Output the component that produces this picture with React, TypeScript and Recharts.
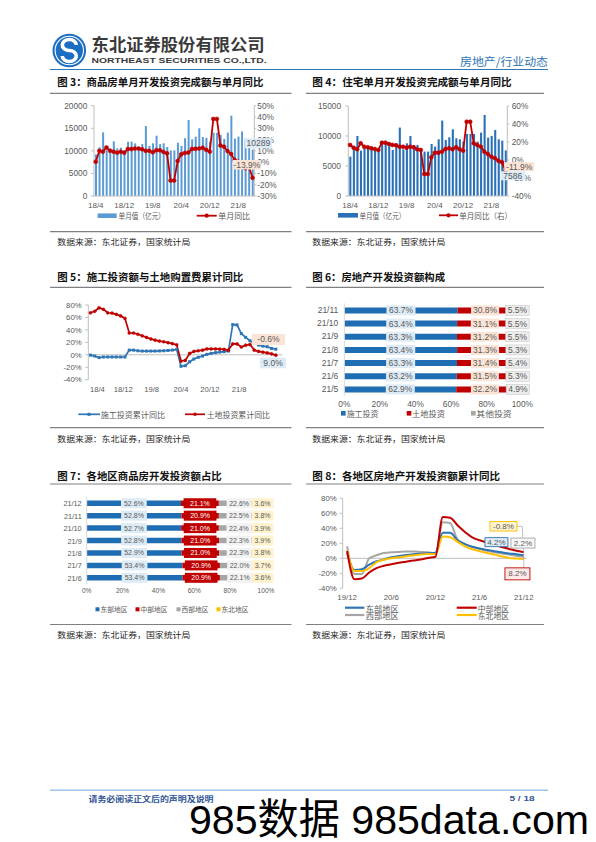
import React from 'react';
import { ComposedChart, LineChart, BarChart, Bar, Line, XAxis, YAxis, LabelList, ReferenceLine } from 'recharts';

const LATIN = "'Liberation Sans', Arial, 'Noto Sans CJK SC', sans-serif";
const CJK = "'Noto Sans CJK SC', 'Liberation Sans', sans-serif";
const AXIS = '#bfbfbf';
const TICK = '#595959';
const RED = '#c00000';

// ---------- Fig 3 / Fig 4 : monthly values ----------
const months = ['18/4','18/5','18/6','18/7','18/8','18/9','18/10','18/11','18/12',
  '19/1','19/2','19/3','19/4','19/5','19/6','19/7','19/8','19/9','19/10','19/11','19/12',
  '20/1','20/2','20/3','20/4','20/5','20/6','20/7','20/8','20/9','20/10','20/11','20/12',
  '21/1','21/2','21/3','21/4','21/5','21/6','21/7','21/8','21/9','21/10','21/11','21/12'];

const fig3Value = [9200, 10780, 14100, 10180, 10550, 12100, 10550, 10700, 10180,
  12030, 12030, 11660, 10900, 11500, 15500, 11070, 11660, 13360, 11510, 11660, 10850,
  10100, 10100, 11800, 11100, 12800, 16850, 12550, 13130, 15000, 13050, 12900, 12000,
  14000, 14000, 13550, 12650, 14050, 17800, 12700, 13150, 14300, 12700, 12150, 10289];
const fig3Yoy = [0.4, 10, 9.3, 13, 10, 9.3, 8.4, 9.3, 8.4,
  11.6, 11.6, 12, 12, 11.4, 10, 10, 8.7, 10.5, 10.5, 9, 7.8,
  -16.3, -16.3, 1.1, 7, 8.1, 8.5, 11.7, 11.8, 12, 12.7, 10.9, 9.3,
  38.3, 38.3, 14.7, 13.7, 9.8, 7.2, 1.8, 0.3, -3.5, -5.4, -4.3, -13.9];
const fig3LeftTicks = [0, 5000, 10000, 15000, 20000];
const fig3RightTicks = [-30, -20, -10, 0, 10, 20, 30, 40, 50];

const fig4Value = [6560, 8060, 10000, 7560, 8230, 8340, 8230, 8060, 7670,
  8950, 8950, 8500, 7670, 8780, 11400, 7780, 8780, 10000, 8500, 8500, 7950,
  7400, 7400, 8670, 8230, 9450, 12570, 9340, 9790, 11120, 9620, 9450, 9060,
  10340, 10340, 10340, 9060, 10560, 13510, 9730, 10010, 11010, 9450, 9230, 7586];
const fig4Yoy = [16.7, 13.7, 11.9, 18.5, 14.8, 14.1, 13, 12.2, 11.1,
  19.3, 19.3, 17.8, 16.7, 16.3, 14.8, 14.8, 13.7, 14.8, 14.1, 11.9, 11.1,
  -15.6, -15.6, 3, 8.1, 8.1, 9.3, 12.2, 13, 11.9, 14.1, 11.9, 10.4,
  42.6, 42.6, 18.5, 16.7, 14.8, 9.3, 6.7, 3.7, 1.9, -0.7, -2.6, -11.9];
const fig4LeftTicks = [0, 5000, 10000, 15000];
const fig4RightTicks = [-40, -20, 0, 20, 40, 60];

// ---------- Fig 5 : cumulative yoy ----------
const fig5Build = [-0.5, -2, -4.5, -3.5, -3.5, -3.5, -3.5, -3.5, -3.5,
  7.5, 7.5, 6.5, 6, 6, 6, 6, 6.2, 6.5, 7, 7.6, 8.7,
  -18.5, -17.5, -11.2, -6.8, -4, -2, 0.7, 2.3, 3.4, 4.4, 5, 6,
  48.5, 48, 34, 28, 22.6, 18.3, 15.7, 14, 13, 10.3, 9.0];
const fig5Land = [67.5, 70, 75.5, 73, 67.5, 67, 65, 62.5, 58.5,
  35, 35, 33, 30.5, 28, 25.5, 23.5, 22, 21, 19.5, 18, 16,
  -10, -9, 2.2, 5.5, 6.5, 7.5, 9.5, 9.5, 9.5, 9.2, 8.7, 7.5,
  17.5, 17.5, 12.5, 15.5, 16.5, 7.5, 5.5, 4.2, 3, 1.5, -0.6];
const fig5TickAt = [1.6, 7.6, 14.2, 21, 27.7, 34.5];
const fig5TickText = ['18/4', '18/12', '19/8', '20/4', '20/12', '21/8'];
const fig5YTicks = [-40, -20, 0, 20, 40, 60, 80];

// ---------- Fig 6 : composition ----------
const fig6Cats = ['21/11', '21/10', '21/9', '21/8', '21/7', '21/6', '21/5'];
const fig6Build = [63.7, 63.4, 63.3, 63.4, 63.3, 63.2, 62.9];
const fig6Land = [30.8, 31.1, 31.2, 31.3, 31.4, 31.5, 32.2];
const fig6Other = [5.5, 5.5, 5.5, 5.3, 5.4, 5.3, 4.9];
const pctTicks = [0, 20, 40, 60, 80, 100];

// ---------- Fig 7 : regional share ----------
const fig7Cats = ['21/12', '21/11', '21/10', '21/9', '21/8', '21/7', '21/6'];
const fig7East = [52.6, 52.8, 52.7, 52.8, 52.9, 53.4, 53.4];
const fig7Central = [21.1, 20.9, 21.0, 21.0, 21.0, 20.9, 20.9];
const fig7West = [22.6, 22.5, 22.4, 22.3, 22.3, 22.0, 22.1];
const fig7NE = [3.6, 3.8, 3.9, 3.9, 3.8, 3.7, 3.6];

// ---------- Fig 8 : regional cumulative yoy ----------
const fig8Months = ['19/12','20/1','20/2','20/3','20/4','20/5','20/6','20/7','20/8','20/9','20/10','20/11','20/12',
  '21/1','21/2','21/3','21/4','21/5','21/6','21/7','21/8','21/9','21/10','21/11','21/12'];
const fig8East = [7.5, -15.5, -14.5, -8.5, -4, -1.5, 1.5, 3, 4.5, 5.5, 6.2, 6.8, 7.5, 34, 34, 24, 19, 15.5, 13, 11, 9.5, 8, 6.5, 5.5, 4.2];
const fig8Central = [9.5, -28, -27, -19, -13, -10, -8, -6, -4.5, -3, -1.5, 0.5, 2, 55, 54, 44, 35, 28, 24, 21, 18.5, 15, 12.5, 10, 8.2];
const fig8West = [16, -21, -21, 0, 4, 7, 8, 8.5, 9, 9, 8.5, 8, 6.5, 48, 47, 25, 19, 15, 12.5, 10, 8, 6.5, 5, 3.5, 2.2];
const fig8NE = [10.5, -17, -17, -13, -5, -2, 0, 1.5, 2.7, 3.8, 5, 5.8, 5.5, 29, 28, 22, 16, 12, 9.5, 7, 5, 2.5, 0.5, -0.3, -0.8];
const fig8XTicks = [0, 6, 12, 18, 24];

// ---------- tables built from arrays ----------
const last3 = months.length - 1;
const rows3 = months.map((m, i) => ({ m, v: fig3Value[i], y: fig3Yoy[i], vEnd: i === last3 ? fig3Value[i] : null, yEnd: i === last3 ? fig3Yoy[i] : null }));
const rows4 = months.map((m, i) => ({ m, v: fig4Value[i], y: fig4Yoy[i], vEnd: i === last3 ? fig4Value[i] : null, yEnd: i === last3 ? fig4Yoy[i] : null }));
const last5 = fig5Build.length - 1;
const rows5 = fig5Build.map((b, i) => ({ x: i, b, l: fig5Land[i], bEnd: i === last5 ? b : null, lEnd: i === last5 ? fig5Land[i] : null }));
const rows6 = fig6Cats.map((c, i) => ({ c, a: fig6Build[i], b: fig6Land[i], o: fig6Other[i] }));
const rows7 = fig7Cats.map((c, i) => ({ c, e: fig7East[i], m: fig7Central[i], w: fig7West[i], n: fig7NE[i] }));
const last8 = fig8Months.length - 1;
const rows8 = fig8Months.map((m, i) => ({
  x: i, e: fig8East[i], c: fig8Central[i], w: fig8West[i], n: fig8NE[i],
  eEnd: i === last8 ? fig8East[i] : null, cEnd: i === last8 ? fig8Central[i] : null,
  wEnd: i === last8 ? fig8West[i] : null, nEnd: i === last8 ? fig8NE[i] : null,
}));

const pct = (v: number) => `${v}%`;
const pct1 = (v: number) => `${Number(v).toFixed(1)}%`;

type BoxOpt = { dx: number; dy: number; w: number; h: number; fill: string; stroke?: string; color?: string; fs?: number; fmt: (v: number) => string; leader?: 'right' | 'top' };

function endBox(o: BoxOpt) {
  return (p: any) => {
    const v = p.value;
    if (v === null || v === undefined || v === '') return null;
    const vb = p.viewBox || {};
    const x0 = Number(vb.x ?? p.x);
    const y0 = Number(vb.y ?? p.y);
    const w0 = Number(vb.width ?? p.width) || 0;
    const ax = x0 + w0 / 2;
    const ay = y0;
    const cx = ax + o.dx;
    const cy = ay + o.dy;
    let leader: any = null;
    if (o.leader === 'right') {
      leader = <path d={`M${cx + o.w / 2},${cy} L${ax - 1.5},${cy} L${ax},${ay - 1.5}`} fill="none" stroke="#a6a6a6" strokeWidth={0.7} />;
    } else if (o.leader === 'top') {
      leader = <path d={`M${ax},${cy - o.h / 2} L${ax},${ay + 1.5}`} fill="none" stroke="#a6a6a6" strokeWidth={0.7} />;
    }
    return (
      <g>
        {leader}
        <rect x={cx - o.w / 2} y={cy - o.h / 2} width={o.w} height={o.h} fill={o.fill} stroke={o.stroke || 'none'} strokeWidth={o.stroke ? 0.9 : 0} />
        <text x={cx} y={cy} textAnchor="middle" dominantBaseline="central" fontSize={o.fs || 8.5} fill={o.color || TICK} fontFamily={LATIN}>{o.fmt(Number(v))}</text>
      </g>
    );
  };
}

type SegOpt = { w: number; h: number; fill: string; stroke?: string; color: string; fs: number };
function segBox(o: SegOpt) {
  return (p: any) => {
    const v = p.value;
    if (v === null || v === undefined) return null;
    const vb = p.viewBox || {};
    const x = Number(vb.x ?? p.x);
    const y = Number(vb.y ?? p.y);
    const w = Number(vb.width ?? p.width) || 0;
    const h = Number(vb.height ?? p.height) || 0;
    const cx = x + w / 2;
    const cy = y + h / 2;
    return (
      <g>
        <rect x={cx - o.w / 2} y={cy - o.h / 2} width={o.w} height={o.h} fill={o.fill} stroke={o.stroke || 'none'} strokeWidth={o.stroke ? 0.6 : 0} />
        <text x={cx} y={cy} textAnchor="middle" dominantBaseline="central" fontSize={o.fs} fill={o.color} fontFamily={LATIN}>{pct1(Number(v))}</text>
      </g>
    );
  };
}

const tickStyle = (fs: number) => ({ fontSize: fs, fill: TICK, fontFamily: LATIN });

function Fig3() {
  return (
    <ComposedChart width={240} height={115} data={rows3} margin={{ top: 7.7, right: 3.7, bottom: 3, left: 4 }}>
      <XAxis dataKey="m" interval={7} height={14} tickLine={false} tickSize={0} tickMargin={6.2} axisLine={{ stroke: AXIS }} tick={tickStyle(8)} />
      <YAxis yAxisId="l" domain={[0, 20000]} ticks={fig3LeftTicks} interval={0} width={40} tickSize={3} tickMargin={3.7} axisLine={{ stroke: AXIS }} tickLine={{ stroke: AXIS }} tick={tickStyle(8.3)} />
      <YAxis yAxisId="r" orientation="right" domain={[-30, 50]} ticks={fig3RightTicks} interval={0} tickFormatter={pct} width={32} tickSize={2} tickMargin={1} axisLine={{ stroke: AXIS }} tickLine={{ stroke: AXIS }} tick={tickStyle(8.3)} />
      <Bar yAxisId="l" dataKey="v" fill="#5b9bd5" barSize={2} isAnimationActive={false}>
        <LabelList dataKey="vEnd" content={endBox({ dx: 5.6, dy: -6.2, w: 27, h: 10, fill: '#ddebf7', fmt: (v) => String(v) })} />
      </Bar>
      <Line yAxisId="r" dataKey="y" stroke={RED} strokeWidth={1.8} dot={{ r: 2, fill: RED, stroke: RED, strokeWidth: 0.5 }} activeDot={false} isAnimationActive={false}>
        <LabelList dataKey="yEnd" content={endBox({ dx: -5.7, dy: -13.1, w: 28, h: 9.5, fill: '#fbe4d5', fmt: pct1 })} />
      </Line>
    </ComposedChart>
  );
}

function Fig4() {
  return (
    <ComposedChart width={240} height={115} data={rows4} margin={{ top: 8, right: 5.7, bottom: 3, left: 3.3 }}>
      <XAxis dataKey="m" interval={7} height={14} tickLine={false} tickSize={0} tickMargin={6.2} axisLine={{ stroke: AXIS }} tick={tickStyle(8)} />
      <YAxis yAxisId="l" domain={[0, 15000]} ticks={fig4LeftTicks} interval={0} width={40} tickSize={3} tickMargin={4.3} axisLine={{ stroke: AXIS }} tickLine={{ stroke: AXIS }} tick={tickStyle(8.3)} />
      <YAxis yAxisId="r" orientation="right" domain={[-40, 60]} ticks={fig4RightTicks} interval={0} tickFormatter={pct} width={32} tickSize={2} tickMargin={2.4} axisLine={{ stroke: AXIS }} tickLine={{ stroke: AXIS }} tick={tickStyle(8.3)} />
      <Bar yAxisId="l" dataKey="v" fill="#2a71b8" barSize={2.1} isAnimationActive={false}>
        <LabelList dataKey="vEnd" content={endBox({ dx: 7, dy: 25.3, w: 25, h: 9, fill: '#ddebf7', fmt: (v) => String(v) })} />
      </Bar>
      <Line yAxisId="r" dataKey="y" stroke={RED} strokeWidth={1.8} dot={{ r: 2, fill: RED, stroke: RED, strokeWidth: 0.5 }} activeDot={false} isAnimationActive={false}>
        <LabelList dataKey="yEnd" content={endBox({ dx: 13.7, dy: -4, w: 30, h: 9, fill: '#fbe4d5', fmt: pct1 })} />
      </Line>
    </ComposedChart>
  );
}

const squareDot = (color: string, s: number) => (p: any) => {
  if (p.cx == null || p.cy == null || p.value == null) return <g key={`d${p.index}`} />;
  return <rect key={`d${p.index}`} x={p.cx - s / 2} y={p.cy - s / 2} width={s} height={s} fill={color} />;
};

function Fig5() {
  return (
    <LineChart width={240} height={95} data={rows5} margin={{ top: 7, right: 7.7, bottom: 1.3, left: 6.3 }}>
      <XAxis dataKey="x" type="number" domain={[-0.5, 44.5]} ticks={fig5TickAt} interval={0} allowDecimals
        tickFormatter={(v: number) => { const k = fig5TickAt.findIndex((t) => Math.abs(t - v) < 1e-6); return k >= 0 ? fig5TickText[k] : ''; }}
        height={12} axisLine={false} tickLine={false} tickSize={0} tickMargin={6.7} tick={tickStyle(7.6)} />
      <YAxis domain={[-40, 80]} ticks={fig5YTicks} interval={0} tickFormatter={pct} width={32} tickSize={3} tickMargin={3.6} axisLine={{ stroke: AXIS }} tickLine={{ stroke: AXIS }} tick={tickStyle(7.8)} />
      <ReferenceLine y={0} stroke={AXIS} strokeWidth={1} />
      <Line dataKey="b" stroke="#2e75b6" strokeWidth={1.7} dot={squareDot('#2e75b6', 3)} activeDot={false} isAnimationActive={false}>
        <LabelList dataKey="bEnd" content={endBox({ dx: -2.8, dy: 13.8, w: 26, h: 10.6, fill: '#ddebf7', fmt: pct1 })} />
      </Line>
      <Line dataKey="l" stroke={RED} strokeWidth={1.7} dot={{ r: 1.6, fill: RED, stroke: RED, strokeWidth: 0.3 }} activeDot={false} isAnimationActive={false}>
        <LabelList dataKey="lEnd" content={endBox({ dx: -7.4, dy: -15.7, w: 33, h: 11, fill: '#fbe4d5', fmt: pct1 })} />
      </Line>
    </LineChart>
  );
}

function Fig6() {
  return (
    <BarChart layout="vertical" width={240} height={112} data={rows6} margin={{ top: 5.4, right: 22.7, bottom: 2.4, left: 5.3 }}>
      <XAxis type="number" domain={[0, 100]} ticks={pctTicks} interval={0} allowDataOverflow tickFormatter={pct} height={12} axisLine={false} tickLine={false} tickSize={0} tickMargin={5.4} tick={tickStyle(8.3)} />
      <YAxis type="category" dataKey="c" interval={0} width={34} axisLine={{ stroke: '#d9d9d9' }} tickLine={false} tickSize={0} tickMargin={6} tick={tickStyle(8.5)} />
      <Bar dataKey="a" stackId="s" fill="#1f6db2" barSize={6} isAnimationActive={false}>
        <LabelList dataKey="a" content={segBox({ w: 29, h: 10, fill: '#ddebf7', color: TICK, fs: 8.5 })} />
      </Bar>
      <Bar dataKey="b" stackId="s" fill={RED} barSize={6} isAnimationActive={false}>
        <LabelList dataKey="b" content={segBox({ w: 28, h: 10, fill: '#fbe4d5', color: TICK, fs: 8.5 })} />
      </Bar>
      <Bar dataKey="o" stackId="s" fill="#a6a6a6" barSize={6} isAnimationActive={false}>
        <LabelList dataKey="o" content={segBox({ w: 23.5, h: 10, fill: '#ededed', stroke: '#c8c8c8', color: TICK, fs: 8.5 })} />
      </Bar>
    </BarChart>
  );
}

function Fig7() {
  return (
    <BarChart layout="vertical" width={240} height={106} data={rows7} margin={{ top: 5.5, right: 24, bottom: 3.5, left: 6.7 }}>
      <XAxis type="number" domain={[0, 100]} ticks={pctTicks} interval={0} allowDataOverflow tickFormatter={pct} height={10} axisLine={false} tickLine={false} tickSize={0} tickMargin={4.2} tick={tickStyle(6.6)} />
      <YAxis type="category" dataKey="c" interval={0} width={30} axisLine={{ stroke: '#d9d9d9' }} tickLine={false} tickSize={0} tickMargin={5} tick={tickStyle(7.3)} />
      <Bar dataKey="e" stackId="s" fill="#1f6db2" barSize={5.5} isAnimationActive={false}>
        <LabelList dataKey="e" content={segBox({ w: 25.7, h: 10, fill: '#ddebf7', color: TICK, fs: 7 })} />
      </Bar>
      <Bar dataKey="m" stackId="s" fill={RED} barSize={5.5} isAnimationActive={false}>
        <LabelList dataKey="m" content={segBox({ w: 32.7, h: 10, fill: RED, color: '#ffffff', fs: 7 })} />
      </Bar>
      <Bar dataKey="w" stackId="s" fill="#a6a6a6" barSize={5.5} isAnimationActive={false}>
        <LabelList dataKey="w" content={segBox({ w: 25, h: 10, fill: '#f2f2f2', color: TICK, fs: 7 })} />
      </Bar>
      <Bar dataKey="n" stackId="s" fill="#ffc000" barSize={5.5} isAnimationActive={false}>
        <LabelList dataKey="n" content={segBox({ w: 21.7, h: 10, fill: '#fff2cc', color: TICK, fs: 7 })} />
      </Bar>
    </BarChart>
  );
}

function Fig8() {
  return (
    <LineChart width={240} height={112} data={rows8} margin={{ top: 6.3, right: 18.3, bottom: 3.7, left: 5.7 }}>
      <XAxis dataKey="x" type="number" domain={[-0.6, 24.4]} ticks={fig8XTicks} interval={0}
        tickFormatter={(v: number) => fig8Months[v] || ''} height={12} axisLine={false} tickLine={false} tickSize={0} tickMargin={5.9} tick={tickStyle(7.8)} />
      <YAxis domain={[-40, 80]} ticks={fig5YTicks} interval={0} tickFormatter={pct} width={32} tickSize={3} tickMargin={3} axisLine={{ stroke: AXIS }} tickLine={{ stroke: AXIS }} tick={tickStyle(7.8)} />
      <ReferenceLine y={0} stroke={AXIS} strokeWidth={1} />
      <Line type="monotone" dataKey="w" stroke="#a6a6a6" strokeWidth={2} dot={false} activeDot={false} isAnimationActive={false} />
      <Line type="monotone" dataKey="e" stroke="#2e75b6" strokeWidth={2} dot={false} activeDot={false} isAnimationActive={false} />
      <Line type="monotone" dataKey="n" stroke="#ffc000" strokeWidth={2} dot={false} activeDot={false} isAnimationActive={false} />
      <Line type="monotone" dataKey="c" stroke={RED} strokeWidth={2} dot={false} activeDot={false} isAnimationActive={false}>
        <LabelList dataKey="cEnd" content={endBox({ dx: -6.3, dy: 21.7, w: 25, h: 12, fill: '#fdeae8', stroke: RED, fmt: pct1, fs: 8, leader: 'top' })} />
      </Line>
      <Line type="monotone" dataKey="nEnd" stroke="none" dot={false} activeDot={false} isAnimationActive={false}>
        <LabelList dataKey="nEnd" content={endBox({ dx: -20.3, dy: -32.6, w: 27, h: 9.5, fill: '#fff2cc', stroke: '#ffc000', fmt: pct1, fs: 8, leader: 'right' })} />
      </Line>
      <Line type="monotone" dataKey="eEnd" stroke="none" dot={false} activeDot={false} isAnimationActive={false}>
        <LabelList dataKey="eEnd" content={endBox({ dx: -27.3, dy: -13, w: 23, h: 9, fill: '#ddebf7', stroke: '#2e75b6', fmt: pct1, fs: 8 })} />
      </Line>
      <Line type="monotone" dataKey="wEnd" stroke="none" dot={false} activeDot={false} isAnimationActive={false}>
        <LabelList dataKey="wEnd" content={endBox({ dx: -0.8, dy: -13.6, w: 24, h: 10, fill: '#f7f7f7', stroke: '#a6a6a6', fmt: pct1, fs: 8 })} />
      </Line>
    </LineChart>
  );
}

type TProps = { x: number; y: number; s: number; w?: number; bold?: boolean; fill?: string; fam?: string; children: React.ReactNode };
function T({ x, y, s, w, bold, fill = '#262626', fam = CJK, children }: TProps) {
  const extra: any = w ? { textLength: w, lengthAdjust: 'spacingAndGlyphs' } : {};
  return (
    <text x={x} y={y} fontSize={s} fontWeight={bold ? 700 : 400} fill={fill} fontFamily={fam} dominantBaseline="central" {...extra}>{children}</text>
  );
}

function PageSvg() {
  const cx = 69.3, cy = 50.5;
  const L1 = [50, 291.5];
  const L2 = [306, 544];
  const rule = (x: number[], y: number) => <line x1={x[0]} x2={x[1]} y1={y} y2={y} stroke="#808080" strokeWidth={1.2} />;
  return (
    <svg width={596} height={842} style={{ position: 'absolute', left: 0, top: 0 }}>
      {/* header */}
      <circle cx={cx} cy={cy} r={16.8} fill="#1b6ec2" />
      <circle cx={cx} cy={cy} r={14.2} fill="none" stroke="#fff" strokeWidth={1.1} />
      <path d={`M${cx + 7},${cy - 5.5} A7 5.5 0 1 0 ${cx},${cy} A7 5.5 0 1 1 ${cx - 7},${cy + 5.5}`} fill="none" stroke="#fff" strokeWidth={3.6} />
      <T x={91.6} y={43.9} s={16.5} w={173} bold fill="#3a3a3a">东北证券股份有限公司</T>
      <T x={91.6} y={60.7} s={7.6} w={175} bold fill="#3a3a3a" fam={LATIN}>NORTHEAST SECURITIES CO.,LTD.</T>
      <T x={460} y={61} s={11} w={88} fill="#2e74b5">房地产/行业动态</T>
      <line x1={50} x2={548} y1={69.5} y2={69.5} stroke="#2e75b6" strokeWidth={1} />

      {/* titles */}
      <T x={57.3} y={81.7} s={10.6} w={206} bold fill="#111">图 3：商品房单月开发投资完成额与单月同比</T>
      <T x={312.3} y={81.7} s={10.6} w={199.4} bold fill="#111">图 4：住宅单月开发投资完成额与单月同比</T>
      <T x={57.3} y={276.7} s={10.6} w={186} bold fill="#111">图 5：施工投资额与土地购置费累计同比</T>
      <T x={312.3} y={276.7} s={10.6} w={132.7} bold fill="#111">图 6：房地产开发投资额构成</T>
      <T x={57.3} y={475.7} s={10.6} w={164.4} bold fill="#111">图 7：各地区商品房开发投资额占比</T>
      <T x={312.3} y={475.7} s={10.6} w={187.7} bold fill="#111">图 8：各地区房地产开发投资额累计同比</T>
      {rule(L1, 93.3)}{rule(L2, 93.3)}
      {rule(L1, 287.3)}{rule(L2, 287.3)}
      {rule(L1, 484)}{rule(L2, 484)}

      {/* source lines */}
      {rule(L1, 231.7)}{rule(L2, 231.7)}
      {rule(L1, 427.7)}{rule(L2, 427.7)}
      {rule(L1, 624.5)}{rule(L2, 624.5)}
      <T x={57.3} y={241} s={8.3} w={133}>数据来源：东北证券，国家统计局</T>
      <T x={312.3} y={241} s={8.3} w={133}>数据来源：东北证券，国家统计局</T>
      <T x={57.3} y={438.3} s={8.3} w={133}>数据来源：东北证券，国家统计局</T>
      <T x={312.3} y={438.3} s={8.3} w={133}>数据来源：东北证券，国家统计局</T>
      <T x={57.3} y={634.2} s={8.3} w={133}>数据来源：东北证券，国家统计局</T>
      <T x={312.3} y={634.2} s={8.3} w={133}>数据来源：东北证券，国家统计局</T>

      {/* legend fig3 */}
      <rect x={97.7} y={213.4} width={19} height={4.6} fill="#5b9bd5" />
      <T x={118.5} y={215.7} s={7.8} w={46.5} fill={TICK}>单月值（亿元）</T>
      <line x1={196.7} x2={216.7} y1={215.7} y2={215.7} stroke={RED} strokeWidth={1.8} />
      <circle cx={206.7} cy={215.7} r={2.1} fill={RED} />
      <T x={218.3} y={215.7} s={7.8} w={31.7} fill={TICK}>单月同比</T>

      {/* legend fig4 */}
      <rect x={338} y={213} width={20} height={4.6} fill="#2a71b8" />
      <T x={359.5} y={215.3} s={7.8} w={45.7} fill={TICK}>单月值（亿元）</T>
      <line x1={439} x2={458} y1={215.3} y2={215.3} stroke={RED} strokeWidth={1.8} />
      <circle cx={448.5} cy={215.3} r={2.1} fill={RED} />
      <T x={459.3} y={215.3} s={7.8} w={52.7} fill={TICK}>单月同比（右）</T>

      {/* legend fig5 */}
      <line x1={78.3} x2={100} y1={414.3} y2={414.3} stroke="#2e75b6" strokeWidth={1.7} />
      <rect x={87.5} y={412.8} width={3} height={3} fill="#2e75b6" />
      <T x={100.7} y={414.3} s={8} w={64.3} fill={TICK}>施工投资累计同比</T>
      <line x1={185} x2={205} y1={414.3} y2={414.3} stroke={RED} strokeWidth={1.7} />
      <circle cx={195} cy={414.3} r={1.7} fill={RED} />
      <T x={206.7} y={414.3} s={8} w={63.3} fill={TICK}>土地投资累计同比</T>

      {/* legend fig6 */}
      <rect x={341} y={411} width={4.6} height={4.6} fill="#1f6db2" />
      <T x={346.7} y={413.3} s={8} w={31.7} fill={TICK}>施工投资</T>
      <rect x={406.7} y={411} width={4.6} height={4.6} fill={RED} />
      <T x={411.9} y={413.3} s={8} w={33} fill={TICK}>土地投资</T>
      <rect x={471} y={411} width={4.6} height={4.6} fill="#a6a6a6" />
      <T x={476.3} y={413.3} s={8} w={35.4} fill={TICK}>其他投资</T>

      {/* legend fig7 */}
      <rect x={95.5} y={607.3} width={4} height={4} fill="#1f6db2" />
      <T x={100.5} y={609.3} s={7} w={27} fill={TICK}>东部地区</T>
      <rect x={135.5} y={607.3} width={4} height={4} fill={RED} />
      <T x={140.5} y={609.3} s={7} w={27} fill={TICK}>中部地区</T>
      <rect x={176.5} y={607.3} width={4} height={4} fill="#a6a6a6" />
      <T x={181.5} y={609.3} s={7} w={27} fill={TICK}>西部地区</T>
      <rect x={216.5} y={607.3} width={4} height={4} fill="#ffc000" />
      <T x={221.5} y={609.3} s={7} w={27} fill={TICK}>东北地区</T>

      {/* legend fig8 */}
      <line x1={345} x2={364.3} y1={607.7} y2={607.7} stroke="#2e75b6" strokeWidth={2.2} />
      <T x={365.7} y={607.7} s={8.2} w={33} fill={TICK}>东部地区</T>
      <line x1={456.7} x2={476.7} y1={607.7} y2={607.7} stroke={RED} strokeWidth={2.2} />
      <T x={477.7} y={607.7} s={8.2} w={31.5} fill={TICK}>中部地区</T>
      <line x1={345} x2={364.3} y1={615} y2={615} stroke="#a6a6a6" strokeWidth={2.2} />
      <T x={365.7} y={615} s={8.2} w={33} fill={TICK}>西部地区</T>
      <line x1={456.7} x2={476.7} y1={615} y2={615} stroke="#ffc000" strokeWidth={2.2} />
      <T x={477.7} y={615} s={8.2} w={31.5} fill={TICK}>东北地区</T>

      {/* footer */}
      <line x1={50} x2={548} y1={790.2} y2={790.2} stroke="#9dc3e6" strokeWidth={1.4} />
      <T x={88.5} y={798.6} s={7.6} w={125} bold fill="#2f5597">请务必阅读正文后的声明及说明</T>
      <T x={509.5} y={798.6} s={7.5} w={25} bold fill="#2f5597" fam={LATIN}>5 / 18</T>
      <text x={189} y={834} fontSize={41.5} fill="#000" fontFamily={LATIN} textLength={400} lengthAdjust="spacingAndGlyphs">985数据 985data.com</text>
    </svg>
  );
}

export default function App() {
  return (
    <div style={{ position: 'relative', width: 596, height: 842, overflow: 'hidden', background: '#fff' }}>
      <style>{'html,body{margin:0;padding:0;background:#fff}'}</style>
      <PageSvg />
      <div style={{ position: 'absolute', left: 50, top: 98 }}><Fig3 /></div>
      <div style={{ position: 'absolute', left: 305, top: 98 }}><Fig4 /></div>
      <div style={{ position: 'absolute', left: 50, top: 298 }}><Fig5 /></div>
      <div style={{ position: 'absolute', left: 305, top: 298 }}><Fig6 /></div>
      <div style={{ position: 'absolute', left: 50, top: 492 }}><Fig7 /></div>
      <div style={{ position: 'absolute', left: 305, top: 492 }}><Fig8 /></div>
    </div>
  );
}
